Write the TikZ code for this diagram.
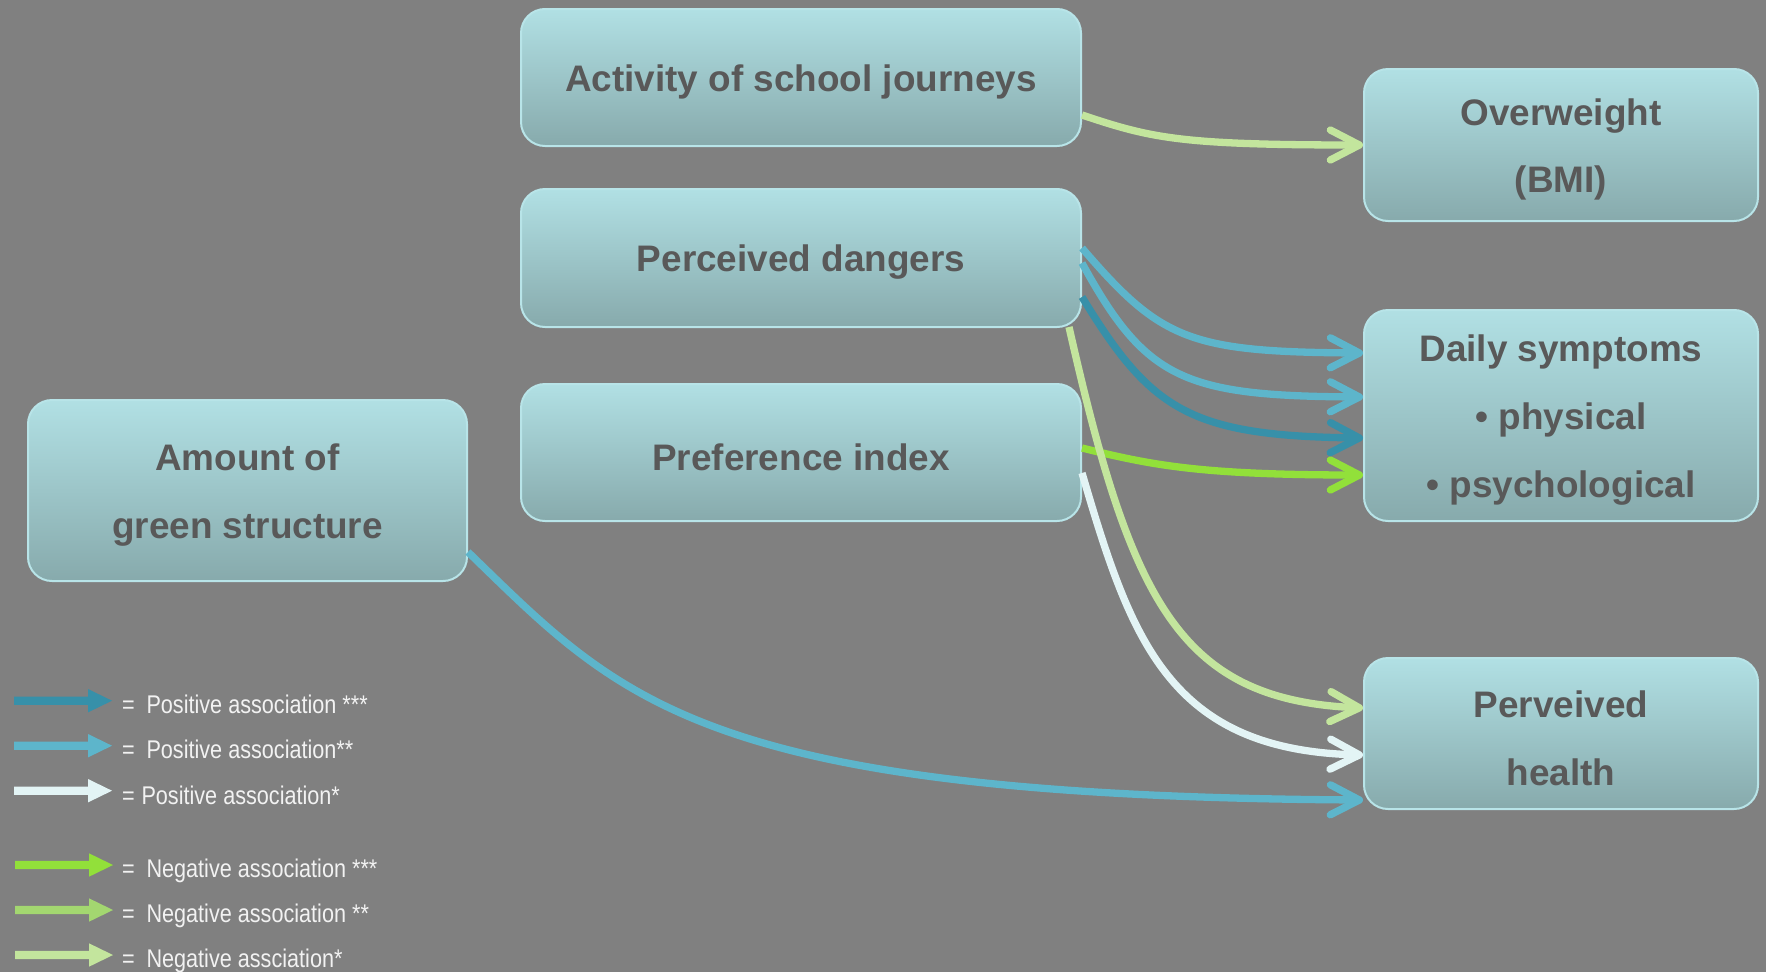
\documentclass[tikz,border=0pt]{standalone}
\usepackage{fontspec}
\setmainfont{Liberation Sans}
\newfontfamily\legfont[FakeStretch=0.845]{Liberation Sans}
\usetikzlibrary{arrows.meta,calc}

\definecolor{bgc}{HTML}{808080}
\definecolor{boxtop}{HTML}{B1E0E4}
\definecolor{boxbot}{HTML}{87AAAC}
\definecolor{boxline}{HTML}{B8E4E8}
\definecolor{boxtext}{HTML}{595959}
\definecolor{legc}{HTML}{F2F2F2}
\definecolor{posA}{HTML}{3790A9}
\definecolor{posB}{HTML}{5DB5CB}
\definecolor{posC}{HTML}{E3F4F5}
\definecolor{negA}{HTML}{92E03A}
\definecolor{negB}{HTML}{A3D770}
\definecolor{negC}{HTML}{C3E59D}

% lower a line of box text slightly without changing its reported size
\newcommand\lowline[1]{\raisebox{-4.5pt}[\height][\depth]{#1}}

\begin{document}
\begin{tikzpicture}[x=1pt,y=-1pt,
  box/.style={draw=boxline, line width=2pt, rounded corners=24pt,
    top color=boxtop, bottom color=boxbot, text=boxtext,
    font=\fontsize{36.9}{67.6}\selectfont\bfseries, align=center, inner sep=0pt},
  conn/.style={line width=7.3pt, -{Straight Barb[length=29pt,width=30pt,round]}},
  legarrow/.pic={\fill (0,-4.2) -- (74,-4.2) -- (74,-11.7) -- (98,0) -- (74,11.7) -- (74,4.2) -- (0,4.2) -- cycle;},
  legtext/.style={anchor=base west, inner sep=0pt, text=legc,
    font=\legfont\fontsize{25.6}{30}\selectfont}]

\fill[bgc] (0,0) rectangle (1766,972);
\useasboundingbox (0,0) rectangle (1766,972);

% boxes
\node[box, minimum width=560pt, minimum height=137pt] (act)  at (801,77.5)  {\lowline{Activity of school journeys}};
\node[box, minimum width=560pt, minimum height=138pt] (dang) at (801,258)   {\lowline{Perceived dangers}};
\node[box, minimum width=560pt, minimum height=137pt] (pref) at (801,452.5) {\lowline{Preference index}};
\node[box, minimum width=439pt, minimum height=181pt] (green) at (247.5,490.5) {\lowline{Amount of}\\ \lowline{green structure}};
\node[box, minimum width=394pt, minimum height=152pt] (over)   at (1561,145)   {\lowline{Overweight}\\ \lowline{(BMI)}};
\node[box, minimum width=394pt, minimum height=211pt] (daily)  at (1561,415.5) {\lowline{Daily symptoms}\\ \lowline{\textbullet\ physical}\\ \lowline{\textbullet\ psychological}};
\node[box, minimum width=394pt, minimum height=151pt] (health) at (1561,733.5) {\lowline{Perveived}\\ \lowline{health}};

% associations
\draw[conn, negC] ($(act.east)+(0,37.5)$) .. controls +(69,23) and +(-184,0) .. (over.west);

\draw[conn, posB] ($(dang.east)+(0,-10)$) .. controls +(79,92) and +(-174,-1) .. ($(daily.west)+(0,-62.5)$);
\draw[conn, posB] ($(dang.east)+(0,5)$) .. controls +(64,117) and +(-179,-1) .. ($(daily.west)+(0,-18.5)$);
\draw[conn, posA] ($(dang.east)+(0,39)$) .. controls +(69,113) and +(-174,-2) .. ($(daily.west)+(0,22.5)$);
\draw[conn, negA] ($(pref.east)+(0,-4.5)$) .. controls +(69,17) and +(-164,0) .. ($(daily.west)+(0,59.5)$);

\draw[conn, negC] ($(dang.south east)+(-13,-1)$) .. controls +(62,274) and +(-184,-8) .. ($(health.west)+(0,-25.5)$);
\draw[conn, posC] ($(pref.east)+(0,20.5)$) .. controls +(49,167) and +(-194,-5) .. ($(health.west)+(0,21.5)$);
\draw[conn, posB] ($(green.east)+(0,61.5)$) .. controls +(153,148) and +(-664,-4) .. ($(health.west)+(0,66.5)$);

% legend
\pic[fill=posA] at (14,700.7) {legarrow};
\pic[fill=posB] at (14,745.7) {legarrow};
\pic[fill=posC] at (14,790.7) {legarrow};
\pic[fill=negA] at (15,865) {legarrow};
\pic[fill=negB] at (15,910) {legarrow};
\pic[fill=negC] at (15,955) {legarrow};

\node[legtext] (l1) at (122,713.5) {=\hspace{11.7pt}Positive association ***};
\node[legtext] (l2) at (122,758.5) {=\hspace{11.7pt}Positive association**};
\node[legtext] (l3) at (122,804) {=\hspace{6.7pt}Positive association*};
\node[legtext] (l4) at (122,877.5) {=\hspace{11.7pt}Negative association ***};
\node[legtext] (l5) at (122,922.5) {=\hspace{11.7pt}Negative association **};
\node[legtext] (l6) at (122,967.5) {=\hspace{11.7pt}Negative assciation*};
\end{tikzpicture}
\end{document}
